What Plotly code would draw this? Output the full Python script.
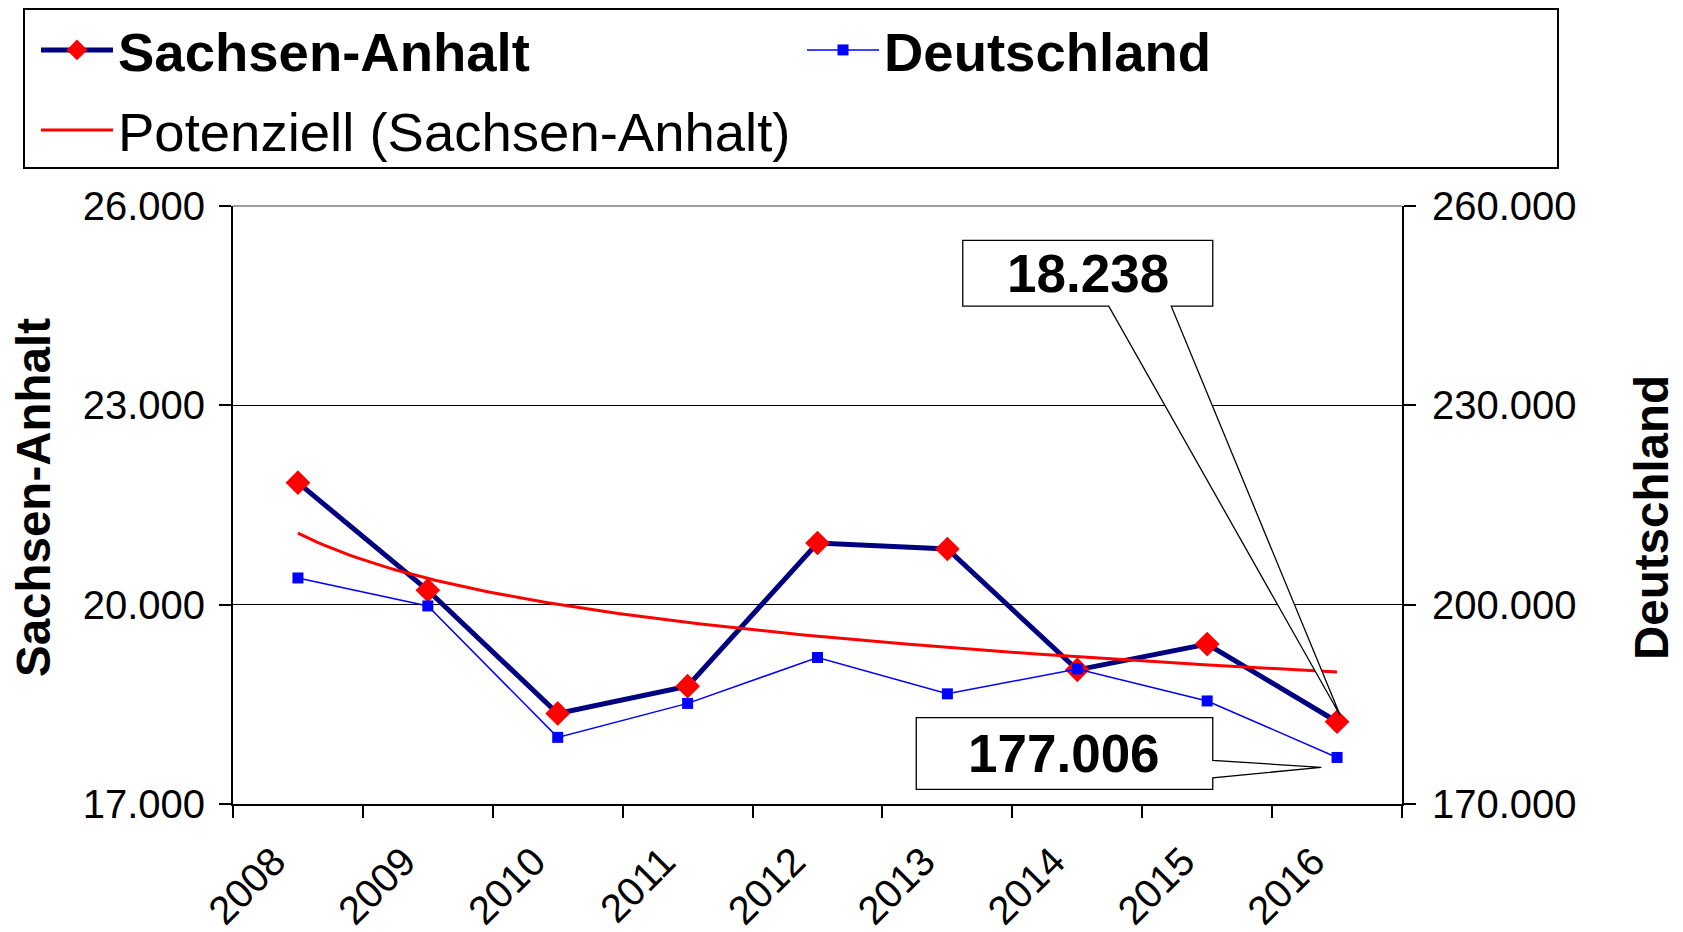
import numpy as np
import plotly.graph_objects as go

# ---------------- data ----------------
YEARS = [2008, 2009, 2010, 2011, 2012, 2013, 2014, 2015, 2016]
SACHSEN_ANHALT = [21836, 20217, 18363, 18774, 20928, 20838, 19019, 19407, 18238]
DEUTSCHLAND = [204020, 199810, 180030, 185140, 192050, 186580, 190330, 185510, 177006]
Y1_TICKS = [17000, 20000, 23000, 26000]
Y2_TICKS = [170000, 200000, 230000, 260000]
YEAR_LABELS = [str(y) for y in YEARS]

# ---------------- layout geometry ----------------
# the page body adds an 8px offset, so the figure is 8px smaller each way
OFF = 8
W, H = 1683 - OFF, 932 - OFF
PL, PT, PWID, PHGT = 233, 206, 1169, 598      # plot area in page pixels
ML, MT = PL - OFF, PT - OFF
MR = W - ML - PWID
MB = H - MT - PHGT


def px(x):
    return (x - PL) / PWID


def py(y):
    return (PT + PHGT - y) / PHGT


FONT = "Arial, 'Liberation Sans', sans-serif"

# power trendline ("Potenziell") fitted to the Sachsen-Anhalt series
idx = np.arange(1, len(YEARS) + 1)
b, lna = np.polyfit(np.log(idx), np.log(SACHSEN_ANHALT), 1)
t = np.linspace(1, len(YEARS), 160)
trend_x = YEARS[0] - 1 + t
trend_y = np.exp(lna) * t ** b

fig = go.Figure()
fig.add_trace(go.Scatter(
    x=YEARS, y=SACHSEN_ANHALT, mode="lines+markers",
    name="<b>Sachsen-Anhalt</b>",
    line=dict(color="#000080", width=5),
    marker=dict(symbol="diamond", size=19, color="#FF0000", line=dict(width=0)),
    legend="legend",
))
fig.add_trace(go.Scatter(
    x=trend_x, y=trend_y, mode="lines",
    name="Potenziell (Sachsen-Anhalt)",
    line=dict(color="#FF0000", width=3),
    legend="legend3",
))
fig.add_trace(go.Scatter(
    x=YEARS, y=DEUTSCHLAND, mode="lines+markers", yaxis="y2",
    name="<b>Deutschland</b>",
    line=dict(color="#0000FF", width=1.5),
    marker=dict(symbol="square", size=11, color="#0000FF", line=dict(width=0)),
    legend="legend2",
))

legend_common = dict(
    xanchor="left", yanchor="middle",
    font=dict(family=FONT, size=54.5, color="black"),
    bgcolor="rgba(0,0,0,0)", borderwidth=0, itemwidth=72,
)


def fmt(v):
    return f"{v:,}".replace(",", ".")


# callout shapes (pixel offsets relative to the labelled data point, y up)
sa_path = ("M -374.3,481.3 L -124.3,481.3 L -124.3,415.6 L -165.8,415.6 "
           "L 3.2,6.2 L -228.3,415.6 L -374.3,415.6 Z")
de_path = ("M -420.8,39.9 L -124.3,39.9 L -124.3,-2.9 L -15.8,-9.9 "
           "L -124.3,-20.3 L -124.3,-32 L -420.8,-32 Z")

shapes = [
    # legend frame
    dict(type="rect", xref="paper", yref="paper",
         x0=px(24), x1=px(1558), y0=py(168), y1=py(9),
         line=dict(color="black", width=2), fillcolor="rgba(0,0,0,0)"),
    # plot-area top border (gray)
    dict(type="line", xref="paper", yref="paper", x0=0, x1=1, y0=1, y1=1,
         line=dict(color="#808080", width=1.5), layer="above"),
    dict(type="path", xref="x", yref="y", xsizemode="pixel", ysizemode="pixel",
         xanchor=YEARS[-1], yanchor=SACHSEN_ANHALT[-1], path=sa_path,
         fillcolor="white", line=dict(color="black", width=1.3), layer="above"),
    dict(type="path", xref="x", yref="y2", xsizemode="pixel", ysizemode="pixel",
         xanchor=YEARS[-1], yanchor=DEUTSCHLAND[-1], path=de_path,
         fillcolor="white", line=dict(color="black", width=1.3), layer="above"),
]

annotations = [
    dict(text="<b>" + fmt(SACHSEN_ANHALT[-1]) + "</b>", xref="x", yref="y",
         x=YEARS[-1], y=SACHSEN_ANHALT[-1], xshift=-249.3, yshift=448.5,
         showarrow=False, xanchor="center", yanchor="middle",
         font=dict(family=FONT, size=53, color="black")),
    dict(text="<b>" + fmt(DEUTSCHLAND[-1]) + "</b>", xref="x", yref="y2",
         x=YEARS[-1], y=DEUTSCHLAND[-1], xshift=-272.6, yshift=4,
         showarrow=False, xanchor="center", yanchor="middle",
         font=dict(family=FONT, size=53, color="black")),
    dict(text="<b>Sachsen-Anhalt</b>", xref="paper", yref="paper",
         x=px(33), y=py(498), textangle=-90, showarrow=False,
         xanchor="center", yanchor="middle",
         font=dict(family=FONT, size=47.5, color="black")),
    dict(text="<b>Deutschland</b>", xref="paper", yref="paper",
         x=px(1651), y=py(518), textangle=-90, showarrow=False,
         xanchor="center", yanchor="middle",
         font=dict(family=FONT, size=47.5, color="black")),
]

axis_common = dict(
    showline=True, linecolor="black", linewidth=2,
    ticks="outside", ticklen=12, tickwidth=1.5, tickcolor="black",
    zeroline=False,
    tickfont=dict(family=FONT, size=40, color="black"),
)

fig.update_layout(
    width=W, height=H,
    margin=dict(l=ML, r=MR, t=MT, b=MB, autoexpand=False),
    paper_bgcolor="white", plot_bgcolor="white",
    separators=",.",
    font=dict(family=FONT, color="black"),
    showlegend=True,
    legend=dict(x=px(36), y=py(50), **legend_common),
    legend2=dict(x=px(802), y=py(50), **legend_common),
    legend3=dict(x=px(36), y=py(130), **legend_common),
    xaxis=dict(
        range=[YEARS[0] - 0.5, YEARS[-1] + 0.5],
        tickmode="array", tickvals=YEARS, ticktext=YEAR_LABELS,
        ticks="", tickangle=-45, showgrid=False, zeroline=False,
        showline=True, linecolor="black", linewidth=2,
        tickfont=dict(family=FONT, size=40, color="black"),
        ticklabelstandoff=16, ticklabelshift=-24,
        minor=dict(tickvals=[y - 0.5 for y in YEARS] + [YEARS[-1] + 0.5],
                   ticks="outside", ticklen=12, tickwidth=1.5,
                   tickcolor="black", showgrid=False),
    ),
    yaxis=dict(
        range=[Y1_TICKS[0], Y1_TICKS[-1]], tickmode="array", tickvals=Y1_TICKS,
        tickformat=",", showgrid=True, gridcolor="black", gridwidth=1.2,
        ticklabelstandoff=6, **axis_common,
    ),
    yaxis2=dict(
        range=[Y2_TICKS[0], Y2_TICKS[-1]], tickmode="array", tickvals=Y2_TICKS,
        tickformat=",", overlaying="y", side="right", showgrid=False,
        ticklabelstandoff=8, **axis_common,
    ),
    shapes=shapes,
    annotations=annotations,
)

fig.write_html("out.html")
